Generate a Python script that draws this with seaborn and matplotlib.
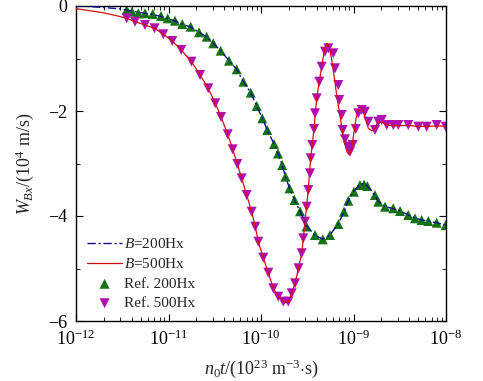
import numpy as np
import pandas as pd
import matplotlib
matplotlib.use("Agg")
import matplotlib.pyplot as plt
from matplotlib.ticker import LogLocator, FixedLocator, NullFormatter
import seaborn as sns

# ---------------- data (x stored as log10 of n0*t) ----------------
ref500_logx = [-11.452, -11.362, -11.254, -11.151, -11.056, -10.959, -10.862, -10.751,
               -10.659, -10.570, -10.494, -10.432, -10.360, -10.306, -10.256, -10.209,
               -10.155, -10.101, -10.062, -10.029, -9.975, -9.921, -9.867, -9.813,
               -9.759, -9.705, -9.668, -9.632, -9.595, -9.560, -9.543, -9.524,
               -9.506, -9.489, -9.470, -9.463, -9.445, -9.427, -9.416, -9.398,
               -9.370, -9.344, -9.308, -9.272, -9.218, -9.200, -9.164, -9.154,
               -9.128, -9.117, -9.092, -9.056, -9.038, -9.009, -8.976, -8.948,
               -8.911, -8.876, -8.840, -8.768, -8.732, -8.695, -8.641, -8.570,
               -8.516, -8.408, -8.299, -8.209, -8.101, -8.003]
ref500_y = [-0.234, -0.299, -0.362, -0.425, -0.539, -0.667, -0.838, -1.061,
            -1.314, -1.568, -1.853, -2.114, -2.444, -2.730, -3.010, -3.282,
            -3.600, -3.918, -4.204, -4.490, -4.794, -5.080, -5.377, -5.537,
            -5.632, -5.632, -5.472, -5.282, -4.996, -4.710, -4.425, -4.109,
            -3.823, -3.505, -3.187, -2.901, -2.648, -2.343, -2.044, -1.758,
            -1.442, -1.156, -0.870, -0.806, -0.901, -1.187, -1.505, -1.790,
            -2.076, -2.362, -2.539, -2.680, -2.775, -2.648, -2.343, -2.044,
            -1.981, -2.013, -2.204, -2.362, -2.204, -2.171, -2.267, -2.267,
            -2.267, -2.267, -2.299, -2.299, -2.267, -2.299]

ref200_logx = [-11.452, -11.395, -11.326, -11.254, -11.171, -11.081, -11.009, -10.930,
               -10.851, -10.760, -10.670, -10.587, -10.516, -10.436, -10.346, -10.263,
               -10.191, -10.111, -10.046, -9.986, -9.932, -9.859, -9.816, -9.771,
               -9.735, -9.692, -9.638, -9.578, -9.508, -9.416, -9.333, -9.254,
               -9.164, -9.103, -9.056, -8.995, -8.930, -8.886, -8.851, -8.768,
               -8.732, -8.659, -8.570, -8.497, -8.408, -8.335, -8.263, -8.191,
               -8.101, -8.003]
ref200_y = [-0.076, -0.109, -0.139, -0.139, -0.152, -0.190, -0.234, -0.280,
            -0.343, -0.394, -0.501, -0.585, -0.710, -0.851, -1.042, -1.206,
            -1.442, -1.651, -1.905, -2.139, -2.362, -2.629, -2.810, -3.029,
            -3.251, -3.472, -3.695, -3.910, -4.200, -4.362, -4.444, -4.362,
            -4.152, -3.918, -3.709, -3.537, -3.410, -3.400, -3.429, -3.600,
            -3.728, -3.823, -3.853, -3.905, -3.981, -4.044, -4.076, -4.095,
            -4.128, -4.171]

b500_logx = [-12.0, -11.85, -11.7, -11.55, -11.452, -11.362, -11.254, -11.151, -11.056,
             -10.959, -10.862, -10.751, -10.659, -10.570, -10.494, -10.432, -10.360,
             -10.306, -10.256, -10.209, -10.155, -10.101, -10.062, -10.029, -9.975,
             -9.921, -9.867, -9.813, -9.759, -9.730, -9.705, -9.668, -9.632, -9.595,
             -9.560, -9.524, -9.489, -9.463, -9.427, -9.398, -9.370, -9.344, -9.315,
             -9.290, -9.265, -9.240, -9.210, -9.180, -9.154, -9.128, -9.100, -9.070,
             -9.045, -9.020, -8.995, -8.970, -8.945, -8.920, -8.895, -8.870, -8.840,
             -8.800, -8.770, -8.740, -8.700, -8.641, -8.570, -8.408, -8.299, -8.101, -8.0]
b500_y = [-0.05, -0.09, -0.13, -0.19, -0.234, -0.299, -0.362, -0.425, -0.539,
          -0.667, -0.838, -1.061, -1.314, -1.568, -1.853, -2.114, -2.444,
          -2.730, -3.010, -3.282, -3.600, -3.918, -4.204, -4.490, -4.794,
          -5.080, -5.377, -5.537, -5.632, -5.650, -5.632, -5.472, -5.282, -4.996,
          -4.710, -4.109, -3.505, -2.901, -2.343, -1.758, -1.442, -1.156, -0.850,
          -0.715, -0.760, -0.980, -1.330, -1.720, -2.000, -2.300, -2.600, -2.780,
          -2.840, -2.720, -2.400, -2.120, -1.980, -1.945, -2.000, -2.150, -2.330,
          -2.380, -2.330, -2.220, -2.200, -2.267, -2.280, -2.275, -2.295, -2.285, -2.29]

b200_logx = [-12.0, -11.85, -11.7, -11.55, -11.452, -11.326, -11.171, -11.081, -11.009,
             -10.930, -10.851, -10.760, -10.670, -10.587, -10.516, -10.436, -10.346,
             -10.263, -10.191, -10.111, -10.046, -9.986, -9.932, -9.859, -9.816,
             -9.771, -9.735, -9.692, -9.638, -9.578, -9.508, -9.416, -9.333, -9.254,
             -9.164, -9.103, -9.056, -8.995, -8.930, -8.900, -8.870, -8.830, -8.768,
             -8.732, -8.659, -8.570, -8.497, -8.408, -8.335, -8.263, -8.191, -8.101, -8.0]
b200_y = [0.0, -0.01, -0.03, -0.05, -0.076, -0.120, -0.160, -0.200, -0.240,
          -0.285, -0.345, -0.400, -0.500, -0.590, -0.710, -0.850, -1.042,
          -1.206, -1.442, -1.651, -1.905, -2.139, -2.362, -2.629, -2.810,
          -3.029, -3.251, -3.472, -3.695, -3.910, -4.180, -4.370, -4.440, -4.360,
          -4.150, -3.918, -3.709, -3.520, -3.400, -3.385, -3.400, -3.470, -3.610,
          -3.720, -3.820, -3.860, -3.905, -3.980, -4.040, -4.075, -4.095, -4.130, -4.17]

labels = ["$B$=200Hx", "$B$=500Hx", "Ref. 200Hx", "Ref. 500Hx"]
xticks_major = [1e-12, 1e-11, 1e-10, 1e-9, 1e-8]
yticks_major = [-6, -4, -2, 0]

# ---------------- style ----------------
sns.set_theme(style="ticks")
plt.rcParams.update({
    "font.family": ["Liberation Serif", "DejaVu Serif"],
    "mathtext.fontset": "custom",
    "mathtext.rm": "Liberation Serif",
    "mathtext.it": "Liberation Serif:italic",
    "mathtext.bf": "Liberation Serif:bold",
    "axes.linewidth": 1.0,
    "axes.edgecolor": "black",
})

fig = plt.figure(figsize=(4.83, 3.81), dpi=100)
ax = fig.add_axes([76 / 483, 60 / 381, 370 / 483, 315 / 381])

df_b200 = pd.DataFrame({"x": 10.0 ** np.array(b200_logx), "y": b200_y})
df_b500 = pd.DataFrame({"x": 10.0 ** np.array(b500_logx), "y": b500_y})
df_r200 = pd.DataFrame({"x": 10.0 ** np.array(ref200_logx), "y": ref200_y})
df_r500 = pd.DataFrame({"x": 10.0 ** np.array(ref500_logx), "y": ref500_y})

green = "#137313"
magenta = "#b010b0"
red = "#d01010"
navy = "#10108a"

sns.scatterplot(data=df_r200, x="x", y="y", ax=ax, marker="^", s=52, color=green,
                edgecolor="none", linewidth=0, zorder=2, label=labels[2])
sns.scatterplot(data=df_r500, x="x", y="y", ax=ax, marker="v", s=52, color=magenta,
                edgecolor="none", linewidth=0, zorder=2, label=labels[3])
sns.lineplot(data=df_b200, x="x", y="y", ax=ax, sort=False, color=navy, lw=1.0,
             linestyle=(0, (6, 2, 1.5, 2)), zorder=3, label=labels[0])
sns.lineplot(data=df_b500, x="x", y="y", ax=ax, sort=False, color=red, lw=0.9,
             zorder=3, label=labels[1])

ax.set_xscale("log")
ax.set_xlim(1e-12, 1e-8)
ax.set_ylim(-6, 0)
ax.xaxis.set_major_locator(FixedLocator(xticks_major))
ax.xaxis.set_minor_locator(LogLocator(base=10, subs=np.arange(2, 10)))
ax.xaxis.set_minor_formatter(NullFormatter())
ax.yaxis.set_major_locator(FixedLocator(yticks_major))
ax.yaxis.set_minor_locator(FixedLocator([-5, -3, -1]))
ax.set_yticklabels(["\u22126", "\u22124", "\u22122", "0"])
ax.tick_params(which="both", direction="in", top=True, right=True, labelsize=13,
               colors="black")
ax.tick_params(which="major", length=5, width=0.8, pad=6)
ax.tick_params(which="minor", length=3, width=0.6)

ax.set_xlabel(r"$n_0t$/(10$^{23}$ m$^{-3}$$\cdot$s)", fontsize=13, labelpad=6)
ax.set_ylabel(r"$W_{Bx}$/(10$^{4}$ m/s)", fontsize=13, labelpad=9)

h, l = ax.get_legend_handles_labels()
order = [l.index(lab) for lab in labels]
ax.legend([h[i] for i in order], [l[i] for i in order], loc="lower left",
          bbox_to_anchor=(0.005, 0.005), frameon=False, fontsize=11,
          handlelength=2.3, handletextpad=0.15, labelspacing=0.38, borderaxespad=0.2)

fig.savefig("out.png", dpi=100)
